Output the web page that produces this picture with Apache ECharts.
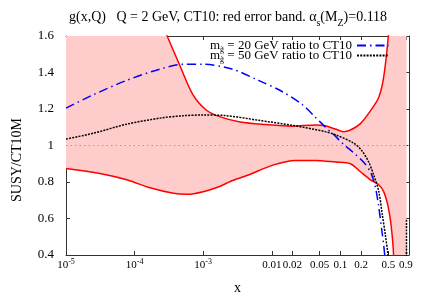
<!DOCTYPE html>
<html><head><meta charset="utf-8">
<script src="https://cdn.jsdelivr.net/npm/echarts@6/dist/echarts.min.js"></script>
<style>html,body{margin:0;padding:0;background:#fff}#c{width:428px;height:300px}</style>
</head><body><div id="c"></div>
<script>
// ---- data ----
const xTickValues = [1e-5, 1e-4, 1e-3, 0.01, 0.02, 0.05, 0.1, 0.2, 0.5, 0.9];
const yTickValues = [0.4, 0.6, 0.8, 1, 1.2, 1.4, 1.6];

const blueX = [1e-5, 2.5e-5, 7.7e-5, 2.35e-4, 5.1e-4, 1e-3, 2.62e-3, 6.4e-3, 0.0141, 0.0276, 0.0432, 0.06, 0.0798, 0.111, 0.155, 0.217, 0.274, 0.324, 0.362, 0.406, 0.428, 0.45, 0.6, 0.9, 0.92];
const blueY = [1.205, 1.278, 1.357, 1.419, 1.445, 1.445, 1.419, 1.357, 1.296, 1.225, 1.155, 1.102, 1.06, 1.007, 0.961, 0.909, 0.856, 0.77, 0.664, 0.522, 0.453, 0.38, 0.1, 0.0, 0.42];

const blackX = [1e-5, 2.5e-5, 7.7e-5, 2.35e-4, 5e-4, 1e-3, 2.1e-3, 6.4e-3, 0.0197, 0.06, 0.0845, 0.155, 0.207, 0.259, 0.306, 0.362, 0.406, 0.454, 0.49, 0.52, 0.9, 0.92];
const blackY = [1.035, 1.067, 1.117, 1.15, 1.163, 1.167, 1.164, 1.138, 1.111, 1.076, 1.059, 1.014, 0.97, 0.909, 0.838, 0.75, 0.627, 0.505, 0.41, 0.3, 0.0, 0.6];

const upperX = [1e-5, 1e-4, 2.98e-4, 4.6e-4, 7.1e-4, 1.13e-3, 1.77e-3, 3.47e-3, 8e-3, 0.0197, 0.0432, 0.06, 0.0845, 0.111, 0.14, 0.196, 0.274, 0.359, 0.424, 0.5, 0.6, 0.92];
const upperY = [2.6, 2.0, 1.6, 1.436, 1.278, 1.192, 1.157, 1.129, 1.115, 1.106, 1.113, 1.108, 1.09, 1.076, 1.085, 1.12, 1.19, 1.26, 1.366, 1.6, 2.0, 3.0];

const lowerX = [1e-5, 3.13e-5, 7.7e-5, 1.68e-4, 3.68e-4, 5.78e-4, 1e-3, 1.77e-3, 2.48e-3, 4.54e-3, 0.0101, 0.022, 0.0432, 0.0845, 0.14, 0.196, 0.274, 0.359, 0.424, 0.486, 0.537, 0.569, 0.589, 0.6, 0.65, 0.92];
const lowerY = [0.874, 0.847, 0.812, 0.768, 0.738, 0.733, 0.747, 0.777, 0.803, 0.838, 0.891, 0.918, 0.918, 0.909, 0.9, 0.856, 0.812, 0.786, 0.75, 0.68, 0.59, 0.505, 0.434, 0.38, 0.2, -1.0];

const zip = (xs, ys) => xs.map((x, i) => [x, ys[i]]);
const SERIF = '"Liberation Serif","DejaVu Serif",serif';
const FRAME = '#333';

const chart = echarts.init(document.getElementById('c'), null, {renderer: 'canvas'});

function xFmt(v) {
  if (v < 0.005) {
    const e = Math.round(Math.log10(v));
    return '{b|10}{sup|' + e + '}';
  }
  return '{b|' + (+v.toPrecision(2)) + '}';
}

const legendNames = ['m20', 'm50'];
const legendText = {
  m20: '{t|m}{sub|g̃}{t| = 20 GeV ratio to CT10}',
  m50: '{t|m}{sub|g̃}{t| = 50 GeV ratio to CT10}'
};

const grid = {left: 66, right: 19, top: 36, bottom: 37};

const option = {
  animation: false,
  backgroundColor: '#fff',
  title: {
    text: '{t|g(x,Q)   Q = 2 GeV, CT10: red error band. α}{sub|s}{t|(M}{sub|Z}{t|)=0.118}',
    left: 64, top: 4,
    textStyle: {
      fontWeight: 'normal',
      rich: {
        t: {fontFamily: SERIF, fontSize: 14, fontWeight: 'normal', color: '#000', lineHeight: 16},
        sub: {fontFamily: SERIF, fontSize: 10, fontWeight: 'normal', color: '#000', lineHeight: 10, verticalAlign: 'bottom', padding: [0, 0, -3, 0]}
      }
    }
  },
  legend: {
    data: legendNames,
    orient: 'vertical',
    right: 33, top: 34,
    align: 'right',
    itemWidth: 32, itemHeight: 10, itemGap: -5,
    itemStyle: {opacity: 0},
    formatter: n => legendText[n],
    textStyle: {
      rich: {
        t: {fontFamily: SERIF, fontSize: 13, color: '#000', lineHeight: 11},
        sub: {fontFamily: SERIF, fontSize: 8, color: '#000', lineHeight: 8, verticalAlign: 'bottom', padding: [0, 0, -3, 0]}
      }
    }
  },
  graphic: [{
    type: 'text', x: 17, y: 160, rotation: Math.PI / 2,
    style: {text: 'SUSY/CT10M', font: '14px ' + SERIF, fill: '#000', align: 'center', verticalAlign: 'middle'}
  }],
  grid: grid,
  xAxis: [{
    type: 'log', min: 1e-5, max: 1, logBase: 10, position: 'bottom',
    name: 'x', nameLocation: 'middle', nameGap: 26,
    nameTextStyle: {fontFamily: SERIF, fontSize: 14, color: '#000'},
    axisLine: {show: true, lineStyle: {color: FRAME, width: 1}},
    axisTick: {show: true, inside: true, length: 4, customValues: xTickValues, lineStyle: {color: FRAME}},
    axisLabel: {
      show: true, margin: 3, customValues: xTickValues, formatter: xFmt, showMinLabel: true, showMaxLabel: true,
      rich: {
        b: {fontFamily: SERIF, fontSize: 11, color: '#000', lineHeight: 14},
        sup: {fontFamily: SERIF, fontSize: 8, color: '#000', lineHeight: 8, verticalAlign: 'top'}
      }
    },
    splitLine: {show: false}, minorTick: {show: false}
  }, {
    type: 'log', min: 1e-5, max: 1, logBase: 10, position: 'top',
    axisLine: {show: true, lineStyle: {color: FRAME, width: 1}},
    axisTick: {show: true, inside: true, length: 4, customValues: xTickValues, lineStyle: {color: FRAME}},
    axisLabel: {show: false},
    splitLine: {show: false}
  }],
  yAxis: [{
    type: 'value', min: 0.4, max: 1.6, interval: 0.2, position: 'left',
    axisLine: {show: true, lineStyle: {color: FRAME, width: 1}},
    axisTick: {show: true, inside: true, length: 4, lineStyle: {color: FRAME}},
    axisLabel: {
      margin: 12, fontFamily: SERIF, fontSize: 13, color: '#000',
      formatter: v => (Math.abs(v - 1) < 1e-9 ? '1' : v.toFixed(1))
    },
    splitLine: {show: false}
  }, {
    type: 'value', min: 0.4, max: 1.6, interval: 0.2, position: 'right',
    axisLine: {show: true, lineStyle: {color: FRAME, width: 1}},
    axisTick: {show: true, inside: true, length: 4, lineStyle: {color: FRAME}},
    axisLabel: {show: false},
    splitLine: {show: false}
  }],
  series: [
    {
      name: 'band', type: 'custom', xAxisIndex: 0, yAxisIndex: 0, clip: true, silent: true, z: 1,
      data: [[upperX[0], upperY[0]]],
      renderItem: function (params, api) {
        const pts = [];
        for (let i = 0; i < upperX.length; i++) pts.push(api.coord([upperX[i], upperY[i]]));
        for (let i = lowerX.length - 1; i >= 0; i--) pts.push(api.coord([lowerX[i], lowerY[i]]));
        return {type: 'polygon', shape: {points: pts, smooth: 0}, style: {fill: '#ffcccc', stroke: null}};
      }
    },
    {
      name: 'unity', type: 'line', data: [[1e-5, 1], [1, 1]], symbol: 'none', silent: true, z: 2,
      lineStyle: {color: '#b49494', width: 1, type: [1.5, 3]}
    },
    {
      name: 'upper', type: 'line', data: zip(upperX, upperY), symbol: 'none', smooth: 0.3, z: 3,
      lineStyle: {color: '#ff0000', width: 1.5}
    },
    {
      name: 'lower', type: 'line', data: zip(lowerX, lowerY), symbol: 'none', smooth: 0.3, z: 3,
      lineStyle: {color: '#ff0000', width: 1.5}
    },
    {
      name: 'm20', type: 'line', data: zip(blueX, blueY), symbol: 'none', smooth: 0.3, z: 4,
      itemStyle: {color: '#0000ff'},
      lineStyle: {color: '#0000ff', width: 1.5, type: [9, 4, 1.5, 4]}
    },
    {
      name: 'm50', type: 'line', data: zip(blackX, blackY), symbol: 'none', smooth: 0.3, z: 5,
      itemStyle: {color: '#000'},
      lineStyle: {color: '#000', width: 1.5, type: [2, 1.2]}
    }
  ]
};
chart.setOption(option);
</script>
</body></html>
